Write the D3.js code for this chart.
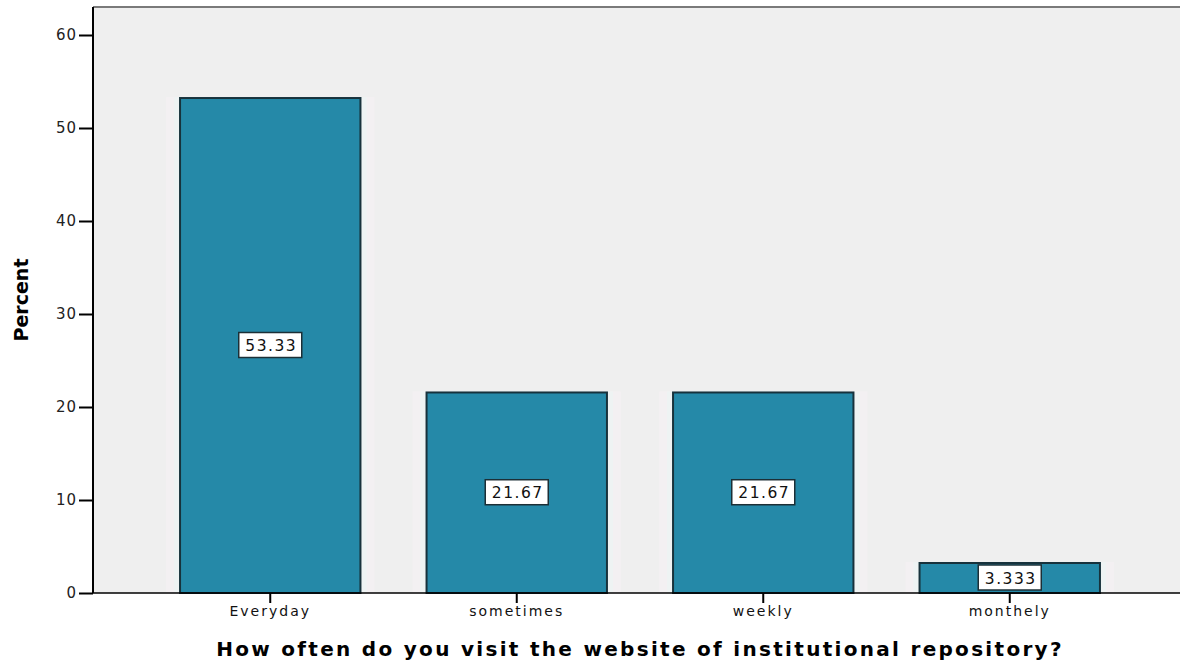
<!DOCTYPE html>
<html>
<head>
<meta charset="utf-8">
<script src="https://cdn.jsdelivr.net/npm/d3@7"></script>
<style>
  body { margin: 0; background: #fff; }
  text { font-family: "DejaVu Sans", Arial, sans-serif; }
</style>
</head>
<body>
<script>
const WIDTH = 1182;
const HEIGHT = 662;

const categories = ["Everyday", "sometimes", "weekly", "monthely"];
const percents = [53.33, 21.67, 21.67, 3.333];
const labels = ["53.33", "21.67", "21.67", "3.333"];
const yTicks = [0, 10, 20, 30, 40, 50, 60];

const PLOT = {LEFT: 93, RIGHT: 1180, TOP: 7, BOTTOM: 593};

var svg = d3.select("body").append("svg")
    .attr("width", WIDTH)
    .attr("height", HEIGHT);

// y: 0..60 maps 593..35
var yScale = d3.scaleLinear()
    .domain([0, 60])
    .range([PLOT.BOTTOM, 35]);

var xScale = d3.scaleBand()
    .domain(categories)
    .range([147, 1133])
    .paddingInner(0.26)
    .paddingOuter(0.13);

// plot background
svg.append("rect")
    .attr("x", PLOT.LEFT)
    .attr("y", PLOT.TOP)
    .attr("width", PLOT.RIGHT - PLOT.LEFT)
    .attr("height", PLOT.BOTTOM - PLOT.TOP)
    .attr("fill", "#efefef");

svg.append("line")
    .attr("x1", PLOT.LEFT).attr("x2", PLOT.RIGHT)
    .attr("y1", PLOT.TOP).attr("y2", PLOT.TOP)
    .attr("stroke", "#7a7a7a")
    .attr("stroke-width", 2);

// faint shadow strips to the left and right of bars
var bars = svg.append("g");
categories.forEach(function(c, i) {
    var x = xScale(c), w = xScale.bandwidth(), y = yScale(percents[i]);
    bars.append("rect")
        .attr("x", x - 13).attr("y", y)
        .attr("width", w + 26).attr("height", PLOT.BOTTOM - y)
        .attr("fill", "#f3f0f2");
    bars.append("rect")
        .attr("x", x - 5).attr("y", y)
        .attr("width", w + 10).attr("height", PLOT.BOTTOM - y)
        .attr("fill", "#eef3f3");
});

bars.selectAll("rect.bar")
    .data(percents)
    .enter().append("rect")
        .attr("class", "bar")
        .attr("x", (d, i) => xScale(categories[i]) + 1)
        .attr("y", d => yScale(d) + 1)
        .attr("width", xScale.bandwidth() - 2)
        .attr("height", d => PLOT.BOTTOM - yScale(d) - 1)
        .attr("fill", "#2589a8")
        .attr("stroke", "#17323c")
        .attr("stroke-width", 2);

// value labels in the middle of each bar
var lab = svg.append("g");
percents.forEach(function(d, i) {
    var cx = xScale(categories[i]) + xScale.bandwidth() / 2;
    var cy = yScale(d / 2);
    var w = 63, h = 25;
    lab.append("rect")
        .attr("x", cx - w / 2).attr("y", cy - h / 2)
        .attr("width", w).attr("height", h)
        .attr("fill", "#fff")
        .attr("stroke", "#1c2f36")
        .attr("stroke-width", 1.5);
    lab.append("text")
        .attr("x", cx + 1).attr("y", cy + 6)
        .attr("text-anchor", "middle")
        .attr("font-size", 15.5)
        .attr("letter-spacing", 1.5)
        .attr("fill", "#111")
        .text(labels[i]);
});

// axes
var yAxis = d3.axisLeft(yScale).tickValues(yTicks).tickSize(14).tickPadding(2);
var gy = svg.append("g")
    .attr("transform", "translate(" + PLOT.LEFT + ",0)")
    .call(yAxis);
gy.select(".domain").attr("d", "M0," + PLOT.TOP + "V" + PLOT.BOTTOM).attr("stroke", "#000").attr("stroke-width", 2);
gy.selectAll(".tick line").attr("stroke", "#000").attr("stroke-width", 2);
gy.selectAll(".tick text").attr("font-size", 15).attr("fill", "#222")
    .attr("letter-spacing", 1)
    .style("font-family", "'DejaVu Sans', sans-serif");

var xAxis = d3.axisBottom(xScale).tickSize(10).tickPadding(3);
var gx = svg.append("g")
    .attr("transform", "translate(0," + PLOT.BOTTOM + ")")
    .call(xAxis);
gx.select(".domain").attr("d", "M" + PLOT.LEFT + ",0H" + PLOT.RIGHT).attr("stroke", "#000").attr("stroke-width", 1.5);
gx.selectAll(".tick line").attr("stroke", "#000").attr("stroke-width", 2);
gx.selectAll(".tick text").attr("font-size", 14).attr("fill", "#111")
    .attr("letter-spacing", 2)
    .style("font-family", "'DejaVu Sans', sans-serif");

// axis titles
svg.append("text")
    .attr("transform", "translate(28,300) rotate(-90)")
    .attr("text-anchor", "middle")
    .attr("font-size", 19)
    .attr("font-weight", "bold")
    .attr("fill", "#000")
    .text("Percent");

svg.append("text")
    .attr("x", 640).attr("y", 656)
    .attr("text-anchor", "middle")
    .attr("font-size", 20)
    .attr("font-weight", "bold")
    .attr("letter-spacing", 2.3)
    .attr("fill", "#000")
    .text("How often do you visit the website of institutional repository?");
</script>
</body>
</html>
